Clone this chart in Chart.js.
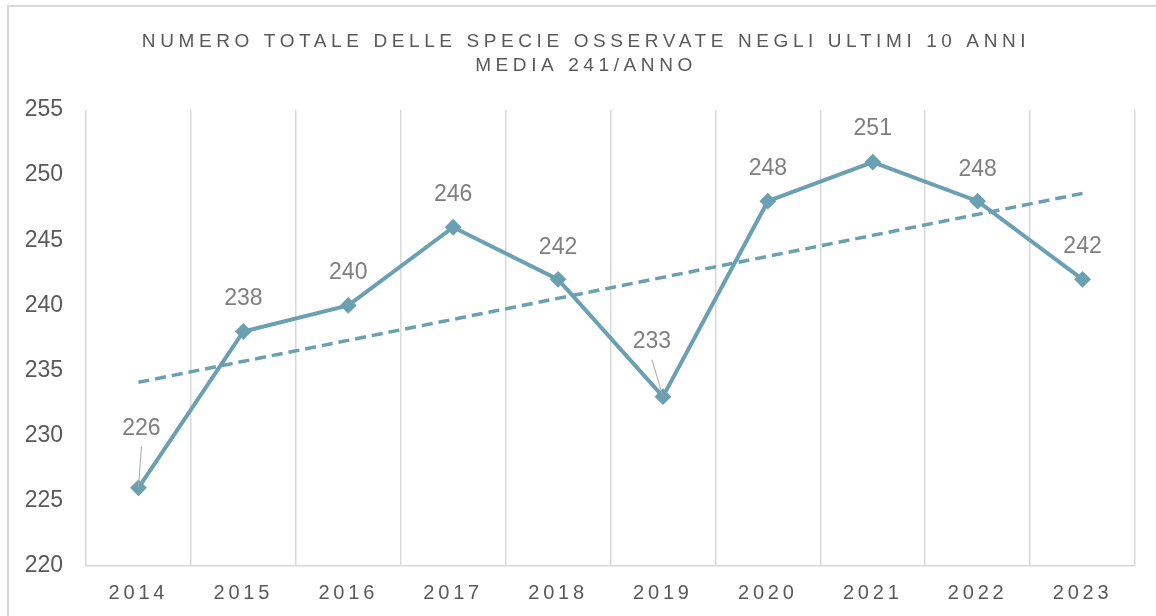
<!DOCTYPE html>
<html>
<head>
<meta charset="utf-8">
<script src="https://cdn.jsdelivr.net/npm/chart.js@4.4.1/dist/chart.umd.min.js"></script>
<style>
    html, body { margin: 0; padding: 0; background: #ffffff; overflow: hidden; }
    #wrap { position: relative; width: 1156px; height: 616px; }
    #frame {
        position: absolute; left: 7px; top: 5px; width: 1160px; height: 640px;
        border-left: 2px solid #d9d9d9; border-top: 2px solid #d9d9d9;
        pointer-events: none;
    }
</style>
</head>
<body>
<div id="wrap">
    <canvas id="species-chart" width="1156" height="616"></canvas>
    <div id="frame"></div>
</div>
<script>
// --- data ---
const years = ['2014', '2015', '2016', '2017', '2018', '2019', '2020', '2021', '2022', '2023'];
const speciesCount = [226, 238, 240, 246, 242, 233, 248, 251, 248, 242];
// linear trend line: only its two ends are drawn
const trendLine = [234.1, null, null, null, null, null, null, null, null, 248.6];
const yTicks = [220, 225, 230, 235, 240, 245, 250, 255];
const titleLines = ['NUMERO TOTALE DELLE SPECIE OSSERVATE NEGLI ULTIMI 10 ANNI', 'MEDIA 241/ANNO'];

const FONT = '"Liberation Sans", Arial, sans-serif';
const LINE_COLOR = '#6aa0b1';

/**
 * Title, letter spacing for the x labels and the value labels
 */
const decorations = {
    id: 'decorations',
    beforeDraw(chart) {
        chart.ctx.letterSpacing = '3.8px';
    },
    beforeDatasetsDraw(chart) {
        chart.ctx.letterSpacing = '0px';
    },
    afterDraw(chart, args, opts) {
        const ctx = chart.ctx;
        ctx.save();

        // title
        ctx.letterSpacing = '4.6px';
        ctx.fillStyle = '#595959';
        ctx.font = '19px ' + FONT;
        ctx.textAlign = 'center';
        ctx.textBaseline = 'alphabetic';
        titleLines.forEach((line, i) => {
            ctx.fillText(line, 586, 47 + i * 24);
        });

        // value labels
        ctx.letterSpacing = '0px';
        ctx.font = '23px ' + FONT;
        ctx.textBaseline = 'middle';
        const meta = chart.getDatasetMeta(0);
        meta.data.forEach((pt, i) => {
            const off = opts.offsets[i] || [0, -33];
            const lx = pt.x + off[0];
            const ly = pt.y + off[1];
            if (off[1] < -45) {
                ctx.strokeStyle = '#a6a6a6';
                ctx.lineWidth = 1;
                ctx.beginPath();
                ctx.moveTo(lx, ly + 18);
                ctx.lineTo(pt.x, pt.y);
                ctx.stroke();
            }
            ctx.fillStyle = '#7f7f7f';
            ctx.fillText(String(speciesCount[i]), lx, ly);
        });
        ctx.restore();
    }
};

new Chart(document.getElementById('species-chart'), {
    type: 'line',
    data: {
        labels: years,
        datasets: [{
            label: 'Specie osservate',
            data: speciesCount,
            borderColor: LINE_COLOR,
            backgroundColor: LINE_COLOR,
            borderWidth: 4,
            tension: 0,
            pointStyle: 'rectRot',
            pointRadius: 7,
            pointBorderWidth: 2,
            pointBackgroundColor: LINE_COLOR,
            pointBorderColor: LINE_COLOR,
            order: 1
        }, {
            label: 'Lineare',
            data: trendLine,
            spanGaps: true,
            borderColor: LINE_COLOR,
            borderWidth: 3.5,
            borderDash: [11, 6],
            pointRadius: 0,
            tension: 0,
            order: 2
        }]
    },
    options: {
        responsive: false,
        animation: false,
        layout: {
            padding: { top: 110, right: 21, left: 0, bottom: 0 }
        },
        plugins: {
            legend: { display: false },
            title: { display: false },
            tooltip: { enabled: false },
            decorations: {
                offsets: [[3, -59], [0, -33], [0, -33], [0, -33], [0, -32], [-11, -55], [0, -33], [0, -33], [0, -32], [0, -33]]
            }
        },
        scales: {
            x: {
                offset: true,
                grid: {
                    offset: true,
                    color: '#d9d9d9',
                    lineWidth: 1.5,
                    drawTicks: false
                },
                border: { display: true, color: '#d9d9d9', width: 1.5 },
                ticks: {
                    color: '#595959',
                    font: { family: FONT, size: 20 },
                    padding: 15,
                    autoSkip: false,
                    maxRotation: 0
                },
                afterFit(scale) { scale.height = 50; }
            },
            y: {
                min: 220,
                max: 255,
                afterBuildTicks(scale) {
                    scale.ticks = yTicks.map(v => ({ value: v }));
                },
                grid: { display: false },
                border: { display: false },
                ticks: {
                    z: 1,
                    color: '#595959',
                    font: { family: FONT, size: 23 },
                    padding: 15
                },
                afterFit(scale) { scale.width = 86; }
            }
        }
    },
    plugins: [decorations]
});
</script>
</body>
</html>
